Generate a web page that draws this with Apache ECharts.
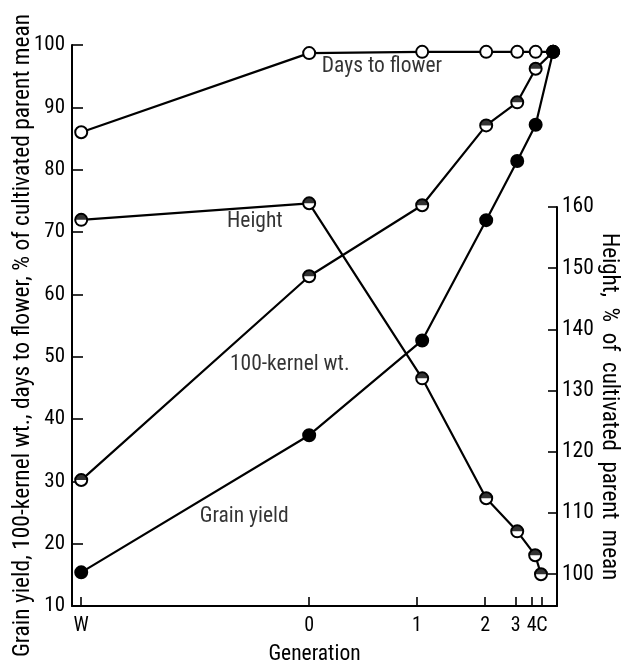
<!DOCTYPE html>
<html>
<head>
<meta charset="utf-8">
<script src="https://cdn.jsdelivr.net/npm/echarts@6/dist/echarts.min.js"></script>
<style>
html,body{margin:0;padding:0;background:#fff;}
#chart{width:626px;height:667px;}
</style>
</head>
<body>
<div id="chart"></div>
<script>
// ---- data ----
const generations = ['W', '0', '1', '2', '3', '4', 'C'];
// generation positions on the (non-uniform) generation scale, 0..100
const tickPos = [1.9, 48.9, 71.1, 85.2, 91.5, 94.8, 96.9];
const pointPos = [1.9, 48.9, 72.2, 85.4, 91.8, 95.6, 99.2];
const heightPos = [1.9, 48.9, 72.2, 85.4, 91.8, 95.5, 96.7];
// % of cultivated parent mean (left axis)
const daysToFlower = [86.0, 98.7, 98.9, 98.9, 98.9, 98.9, 98.9];
const kernelWt = [30.2, 62.9, 74.3, 87.1, 90.8, 96.2, 98.9];
const grainYield = [15.4, 37.4, 52.6, 71.9, 81.4, 87.2, 98.9];
// height, % of cultivated parent mean (right axis)
const height = [157.9, 160.6, 132.0, 112.4, 107.0, 103.1, 100.0];
const leftTicks = [10, 20, 30, 40, 50, 60, 70, 80, 90, 100];
const rightTicks = [100, 110, 120, 130, 140, 150, 160];

const FONT = '"Roboto Condensed", "DejaVu Sans Condensed", sans-serif';
const pair = (xs, ys) => ys.map((v, i) => [xs[i], v]);
const halfDisc = 'path://M0,10 A10,10 0 0 1 20,10 Z';
const genLabel = v => { const i = tickPos.indexOf(v); return i >= 0 ? generations[i] : ''; };
// the crowded "4" label is drawn by the twin x axis so that no label is dropped
const mainTickLabels = tickPos.filter((v, i) => i !== 5);
const twinTickLabels = [tickPos[5]];

const chart = echarts.init(document.getElementById('chart'), null, {renderer: 'canvas'});

function lineSeries(name, xs, ys, fill, xi, yi) {
  return {
    name: name, type: 'line', xAxisIndex: xi, yAxisIndex: yi,
    data: pair(xs, ys), clip: false,
    symbol: 'circle', symbolSize: 12,
    lineStyle: {color: '#000', width: 2.2},
    itemStyle: {color: fill, borderColor: '#000', borderWidth: 2},
    emphasis: {disabled: true}, animation: false, z: 3
  };
}
function halfOverlay(xs, ys, xi, yi) {
  return {
    type: 'scatter', xAxisIndex: xi, yAxisIndex: yi, data: pair(xs, ys), clip: false,
    symbol: halfDisc, symbolSize: [12, 6], symbolOffset: [0, -3],
    itemStyle: {color: '#000'}, silent: true, animation: false, z: 4
  };
}

const labelStyle = {color: '#000', fontFamily: FONT, fontSize: 21.5, textBorderWidth: 0};
const axisLineStyle = {show: true, onZero: false, lineStyle: {color: '#000', width: 2, opacity: 1}};
const xLabelBase = {show: true, margin: 10, color: '#000', fontFamily: FONT, fontSize: 20,
  hideOverlap: false, formatter: genLabel};

const option = {
  backgroundColor: '#fff',
  animation: false,
  grid: [
    {left: 72, right: 69, top: 45, bottom: 61, outerBoundsMode: 'none'},
    {left: 72, right: 69, top: 207, bottom: 61, outerBoundsMode: 'none'}
  ],
  xAxis: [
    {
      gridIndex: 0, type: 'value', min: 0, max: 100, position: 'bottom',
      axisLine: axisLineStyle,
      axisTick: {show: true, inside: true, length: 9, customValues: tickPos, lineStyle: {color: '#000', width: 1.6}},
      axisLabel: Object.assign({customValues: mainTickLabels}, xLabelBase),
      splitLine: {show: false},
      name: 'Generation', nameLocation: 'middle', nameGap: 38,
      nameTextStyle: {color: '#000', fontFamily: FONT, fontSize: 21.5}
    },
    {
      gridIndex: 1, type: 'value', min: 0, max: 100, position: 'bottom',
      axisLine: {show: false}, axisTick: {show: false}, splitLine: {show: false},
      axisLabel: Object.assign({customValues: twinTickLabels}, xLabelBase)
    }
  ],
  yAxis: [
    {
      gridIndex: 0, type: 'value', min: 10, max: 100, interval: 10, position: 'left',
      axisLine: axisLineStyle,
      axisTick: {show: true, inside: true, length: 11, lineStyle: {color: '#000', width: 1.6}},
      axisLabel: {margin: 7, color: '#000', fontFamily: FONT, fontSize: 21},
      splitLine: {show: false},
      name: 'Grain yield, 100-kernel wt., days to flower, % of cultivated parent mean',
      nameLocation: 'middle', nameGap: 37, nameRotate: 90, nameMoveOverlap: false,
      nameTextStyle: {color: '#000', fontFamily: FONT, fontSize: 23.5, padding: [0, 20, 0, 0]}
    },
    {
      gridIndex: 1, type: 'value', position: 'right', min: 94.8, max: 160,
      axisLine: axisLineStyle,
      axisTick: {show: true, inside: true, length: 9, customValues: rightTicks, lineStyle: {color: '#000', width: 1.6}},
      axisLabel: {customValues: rightTicks, margin: 5, color: '#000', fontFamily: FONT, fontSize: 21.5},
      splitLine: {show: false},
      name: 'Height,  %  of  cultivated  parent  mean',
      nameLocation: 'middle', nameGap: 40, nameRotate: -90, nameMoveOverlap: false,
      nameTextStyle: {color: '#000', fontFamily: FONT, fontSize: 23}
    }
  ],
  series: [
    lineSeries('Days to flower', pointPos, daysToFlower, '#fff', 0, 0),
    lineSeries('100-kernel wt.', pointPos, kernelWt, '#fff', 0, 0),
    halfOverlay(pointPos, kernelWt, 0, 0),
    lineSeries('Height', heightPos, height, '#fff', 1, 1),
    halfOverlay(heightPos, height, 1, 1),
    lineSeries('Grain yield', pointPos, grainYield, '#000', 0, 0),
    {
      type: 'scatter', xAxisIndex: 0, yAxisIndex: 0, silent: true, animation: false,
      symbolSize: 0,
      label: Object.assign({show: true, position: 'inside', formatter: '{b}'}, labelStyle),
      data: [
        {name: 'Days to flower', value: [63.9, 96.6]},
        {name: 'Height', value: [37.7, 71.6]},
        {name: '100-kernel wt.', value: [44.9, 48.7]},
        {name: 'Grain yield', value: [35.5, 24.3]}
      ],
      z: 5
    }
  ]
};
chart.setOption(option);
</script>
</body>
</html>
